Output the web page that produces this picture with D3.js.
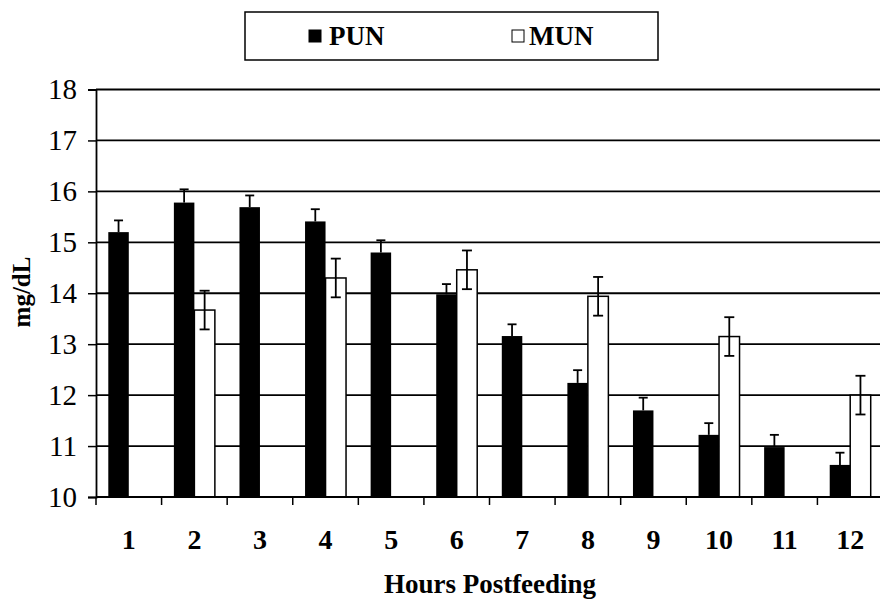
<!DOCTYPE html>
<html>
<head>
<meta charset="utf-8">
<script src="https://cdn.jsdelivr.net/npm/d3@7/dist/d3.min.js"></script>
<style>
  html, body { margin: 0; padding: 0; background: #fff; }
  svg { display: block; }
  svg text { font-family: 'Liberation Serif', 'DejaVu Serif', serif !important; fill: #000; }
</style>
</head>
<body>
<svg id="chart" width="880" height="599"></svg>
<script>
const hours = ["1","2","3","4","5","6","7","8","9","10","11","12"];
const seriesNames = ["PUN", "MUN"];
const punValues = [15.20, 15.78, 15.69, 15.41, 14.80, 13.98, 13.16, 12.24, 11.70, 11.22, 10.98, 10.63];
const punErrors = [0.23, 0.26, 0.23, 0.24, 0.24, 0.20, 0.23, 0.25, 0.25, 0.23, 0.24, 0.24];
const munValues = [null, 13.67, null, 14.30, null, 14.46, null, 13.94, null, 13.15, null, 12.00];
const munErrors = [null, 0.38, null, 0.38, null, 0.38, null, 0.38, null, 0.38, null, 0.38];
const yTicks = [10, 11, 12, 13, 14, 15, 16, 17, 18];
const yDomain = [10, 18];
const xTitle = "Hours Postfeeding";
const yTitle = "mg/dL";

const svg = d3.select("#chart");
const mLeft = 96, mRight = 883, mTop = 89.5, mBottom = 497;

const x0 = d3.scaleBand().domain(hours).range([mLeft, mRight]).paddingInner(0.375).paddingOuter(0.1875);
const x1 = d3.scaleBand().domain(seriesNames).range([0, x0.bandwidth()]).padding(0);
const y = d3.scaleLinear().domain(yDomain).range([mBottom, mTop]);
const step = x0.step();

// gridlines
svg.append("g")
  .selectAll("line")
  .data(yTicks.filter(t => t > yDomain[0]))
  .join("line")
  .attr("x1", mLeft).attr("x2", 880)
  .attr("y1", d => y(d)).attr("y2", d => y(d))
  .attr("stroke", "#000").attr("stroke-width", 1.8);

// y axis
const yAxis = d3.axisLeft(y).tickValues(yTicks).tickSize(8).tickPadding(11).tickFormat(d3.format("d"));
const gy = svg.append("g").attr("transform", `translate(${mLeft},0)`).call(yAxis).attr("font-family", null);
gy.select(".domain").attr("stroke", "#000").attr("stroke-width", 1.8);
gy.selectAll(".tick line").attr("stroke", "#000").attr("stroke-width", 1.5);
gy.selectAll(".tick text").style("font-size", "29px").attr("fill", "#000");

// bars
const groups = svg.append("g").selectAll("g")
  .data(hours.map((h, i) => ({h, i})))
  .join("g")
  .attr("transform", d => `translate(${x0(d.h)},0)`);

groups.append("rect")
  .attr("x", x1("PUN"))
  .attr("width", x1.bandwidth())
  .attr("y", d => y(punValues[d.i]))
  .attr("height", d => y(yDomain[0]) - y(punValues[d.i]))
  .attr("fill", "#000");

groups.filter(d => munValues[d.i] !== null).append("rect")
  .attr("x", x1("MUN"))
  .attr("width", x1.bandwidth())
  .attr("y", d => y(munValues[d.i]))
  .attr("height", d => y(yDomain[0]) - y(munValues[d.i]))
  .attr("fill", "#fff").attr("stroke", "#000").attr("stroke-width", 1.5);

// PUN error bars (upward only)
const punCx = x1("PUN") + x1.bandwidth() / 2;
groups.append("line")
  .attr("x1", punCx).attr("x2", punCx)
  .attr("y1", d => y(punValues[d.i])).attr("y2", d => y(punValues[d.i] + punErrors[d.i]))
  .attr("stroke", "#000").attr("stroke-width", 1.8);
groups.append("line")
  .attr("x1", punCx - 4.5).attr("x2", punCx + 4.5)
  .attr("y1", d => y(punValues[d.i] + punErrors[d.i])).attr("y2", d => y(punValues[d.i] + punErrors[d.i]))
  .attr("stroke", "#000").attr("stroke-width", 1.8);

// MUN error bars (both directions)
const munCx = x1("MUN") + x1.bandwidth() / 2;
const mg = groups.filter(d => munValues[d.i] !== null);
mg.append("line")
  .attr("x1", munCx).attr("x2", munCx)
  .attr("y1", d => y(munValues[d.i] - munErrors[d.i])).attr("y2", d => y(munValues[d.i] + munErrors[d.i]))
  .attr("stroke", "#000").attr("stroke-width", 1.8);
[1, -1].forEach(s => {
  mg.append("line")
    .attr("x1", munCx - 5).attr("x2", munCx + 5)
    .attr("y1", d => y(munValues[d.i] + s * munErrors[d.i])).attr("y2", d => y(munValues[d.i] + s * munErrors[d.i]))
    .attr("stroke", "#000").attr("stroke-width", 1.8);
});

// x axis line
svg.append("line").attr("x1", mLeft).attr("x2", 880).attr("y1", mBottom).attr("y2", mBottom)
  .attr("stroke", "#000").attr("stroke-width", 1.8);
// x ticks at category boundaries
svg.append("g").selectAll("line")
  .data(hours)
  .join("line")
  .attr("x1", d => x0(d) - step * x0.paddingInner() / 2)
  .attr("x2", d => x0(d) - step * x0.paddingInner() / 2)
  .attr("y1", mBottom).attr("y2", mBottom + 8)
  .attr("stroke", "#000").attr("stroke-width", 1.5);
// x tick labels
svg.append("g").selectAll("text")
  .data(hours)
  .join("text")
  .attr("x", d => x0(d) + x0.bandwidth() / 2)
  .attr("y", 549)
  .attr("text-anchor", "middle")
  .style("font-size", "28px").style("font-weight", "bold")
  .text(d => d);

// axis titles
svg.append("text").attr("x", 490).attr("y", 593).attr("text-anchor", "middle")
  .style("font-size", "27px").style("font-weight", "bold").text(xTitle);
svg.append("text").attr("transform", "translate(30,292) rotate(-90)").attr("text-anchor", "middle")
  .style("font-size", "25px").style("font-weight", "bold").text(yTitle);

// legend
const lg = svg.append("g");
lg.append("rect").attr("x", 245).attr("y", 12).attr("width", 413).attr("height", 48)
  .attr("fill", "#fff").attr("stroke", "#000").attr("stroke-width", 1.5);
const legendItems = [
  {name: seriesNames[0], sx: 309, tx: 329, fill: "#000"},
  {name: seriesNames[1], sx: 512, tx: 529, fill: "#fff"}
];
legendItems.forEach(it => {
  lg.append("rect").attr("x", it.sx).attr("y", 30).attr("width", 12).attr("height", 12)
    .attr("fill", it.fill).attr("stroke", "#000").attr("stroke-width", 1);
  lg.append("text").attr("x", it.tx).attr("y", 45)
    .style("font-size", "27px").style("font-weight", "bold").text(it.name);
});
</script>
</body>
</html>
